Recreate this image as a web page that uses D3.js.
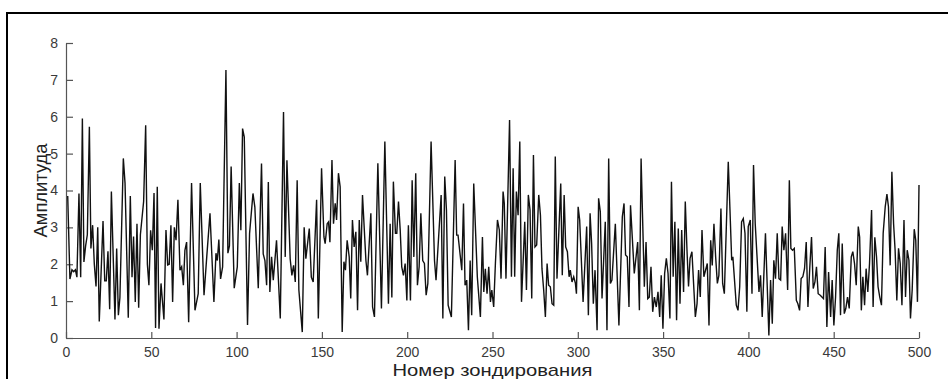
<!DOCTYPE html>
<html>
<head>
<meta charset="utf-8">
<script src="https://cdn.jsdelivr.net/npm/d3@7"></script>
<style>
  body { margin: 0; background: #fff; }
  svg { display: block; font-family: "Liberation Sans", Arial, Helvetica, sans-serif; }
</style>
</head>
<body>
<svg id="chart" width="948" height="379"></svg>
<script>
// sample number and amplitude at that sample
const sample = [
  1.0, 2.3, 3.5, 4.5, 5.5, 6.4, 7.6, 8.6, 9.6, 10.5, 11.5, 12.5, 13.7, 14.6, 15.6, 16.6, 17.6, 18.6, 19.5,
  21.7, 22.7, 23.6, 24.6, 25.6, 26.6, 28.7, 29.7, 30.7, 31.6, 33.6, 34.6, 36.5, 37.7, 38.7, 39.6, 40.6,
  41.6, 42.6, 43.6, 45.5, 46.7, 47.7, 48.6, 49.6, 50.6, 51.6, 52.5, 53.5, 54.5, 55.7, 57.4, 58.6, 59.6,
  60.5, 61.5, 62.5, 63.5, 64.5, 65.6, 66.8, 67.8, 68.8, 69.7, 70.7, 71.9, 73.6, 75.6, 77.5, 78.7, 80.9,
  82.5, 84.4, 86.7, 87.9, 88.7, 89.6, 90.6, 91.8, 93.75, 94.9, 95.8, 96.8, 98.6, 100.4, 101.6, 102.5,
  103.5, 104.5, 106.4, 107.6, 109.6, 110.7, 112.7, 114.6, 115.6, 116.6, 117.6, 118.6, 119.5, 120.5,
  121.5, 123.4, 125.6, 127.5, 128.5, 129.5, 131.4, 132.4, 133.4, 134.4, 135.5, 136.5, 138.5, 139.6,
  140.6, 142.6, 143.8, 144.9, 146.9, 147.9, 149.8, 151.2, 151.9, 153.1, 153.9, 154.7, 155.9, 156.8,
  157.8, 158.6, 159.7, 160.7, 161.9, 162.9, 163.8, 164.8, 166.0, 166.9, 167.9, 168.9, 169.9, 170.9,
  171.9, 172.8, 173.8, 175.8, 176.7, 178.7, 179.7, 180.8, 182.8, 184.9, 186.9, 189.0, 190.0, 191.0,
  191.9, 193.1, 193.9, 194.9, 195.9, 196.8, 197.8, 198.8, 199.8, 200.7, 201.9, 202.9, 203.9, 205.0,
  206.0, 207.0, 208.0, 209.1, 210.1, 211.1, 212.1, 214.0, 216.0, 216.9, 219.9, 220.9, 222.0, 223.0,
  224.0, 225.9, 228.1, 229.0, 229.8, 232.0, 233.0, 233.9, 234.9, 235.9, 236.9, 237.8, 239.0, 241.1,
  242.9, 244.1, 244.9, 245.8, 246.8, 247.8, 248.8, 249.6, 250.7, 251.7, 252.9, 254.0, 255.0, 256.2,
  256.9, 257.9, 260.0, 261.1, 262.1, 263.0, 264.0, 265.0, 266.0, 267.0, 268.9, 269.9, 271.0, 272.0,
  273.0, 274.0, 274.9, 275.9, 277.1, 278.1, 279.0, 280.0, 281.0, 282.0, 282.9, 283.9, 284.9, 285.9,
  286.8, 287.8, 290.0, 290.9, 292.0, 292.9, 293.9, 294.9, 295.6, 296.6, 297.6, 298.6, 299.2, 300.2,
  301.1, 303.1, 305.2, 306.2, 307.2, 308.1, 309.1, 310.1, 311.3, 312.2, 313.2, 314.2, 316.1, 317.1,
  318.1, 319.1, 320.0, 322.0, 324.1, 326.1, 327.1, 328.0, 329.0, 330.0, 330.9, 333.1, 335.1, 336.1,
  337.1, 339.0, 340.0, 341.0, 341.9, 342.9, 343.9, 344.9, 346.0, 347.0, 348.0, 348.9, 349.9, 350.9,
  351.9, 352.9, 354.0, 354.9, 355.9, 356.9, 357.9, 358.9, 359.9, 360.9, 362.0, 363.0, 364.0, 364.9,
  365.8, 366.9, 368.9, 369.9, 370.8, 371.8, 372.8, 373.9, 375.9, 376.9, 377.9, 378.8, 379.8, 380.8,
  381.8, 382.7, 383.9, 384.9, 385.9, 388.2, 389.2, 390.2, 390.9, 392.9, 393.9, 394.9, 396.0, 397.0,
  398.0, 399.1, 399.9, 401.1, 402.1, 403.0, 404.0, 406.2, 407.1, 408.1, 410.0, 412.0, 413.0, 414.0,
  414.9, 415.9, 416.9, 417.9, 418.9, 419.8, 420.8, 421.8, 423.0, 424.0, 424.9, 425.9, 426.9, 428.1,
  429.0, 430.0, 430.9, 431.9, 432.9, 433.9, 434.9, 436.0, 437.0, 438.0, 439.0, 439.9, 440.9, 442.1,
  443.1, 444.0, 445.0, 446.0, 447.0, 448.2, 449.1, 450.1, 451.1, 452.1, 453.0, 454.0, 455.0, 456.2,
  457.1, 458.1, 459.1, 460.3, 461.2, 462.2, 463.2, 464.4, 465.2, 466.2, 467.1, 468.1, 469.0, 470.0,
  471.0, 472.2, 473.1, 474.1, 475.1, 476.0, 477.0, 478.0, 479.0, 480.2, 481.2, 482.1, 483.1, 484.1,
  485.1, 486.0, 487.0, 488.0, 489.0, 490.0, 491.2, 492.1, 493.1, 494.1, 495.0, 496.0, 497.2, 498.1,
  499.1, 500.0
];

const amplitude = [
  3.85, 1.6, 1.85, 1.8, 1.85, 1.65, 3.92, 1.65, 5.95, 2.06, 2.5, 2.8, 5.73, 2.43, 3.06, 2.0, 1.4, 3.0, 0.45,
  3.17, 1.55, 1.55, 2.35, 0.78, 3.97, 0.5, 2.43, 0.62, 1.1, 4.87, 4.2, 0.55, 3.85, 1.65, 2.75, 0.98,
  3.1, 0.82, 2.8, 3.7, 5.77, 2.0, 1.43, 2.92, 2.38, 3.93, 0.27, 4.1, 0.25, 1.48, 0.5, 2.93, 1.98,
  2.0, 3.06, 0.98, 3.0, 2.65, 3.75, 1.84, 1.93, 1.43, 2.38, 2.6, 0.43, 4.2, 0.75, 1.2, 4.2, 1.16,
  2.2, 3.38, 0.98, 2.3, 2.1, 2.67, 1.6, 1.93, 7.27, 2.3, 2.5, 4.65, 1.35, 1.93, 4.2, 2.92,
  5.68, 5.45, 0.35, 2.83, 3.92, 3.55, 1.35, 4.73, 2.28, 2.1, 1.43, 4.23, 1.25, 2.2,
  1.57, 2.65, 0.53, 6.13, 2.2, 4.82, 2.15, 1.7, 1.97, 1.52, 4.28, 1.3, 0.16, 3.0,
  2.15, 2.97, 1.65, 1.52, 3.75, 0.53, 4.6, 2.74, 2.56, 3.1, 3.15, 2.6, 4.83, 3.1,
  3.65, 3.2, 4.47, 4.1, 0.16, 2.07, 1.84, 2.65, 2.2, 1.07, 3.2, 2.47, 2.88, 0.75,
  3.2, 2.07, 3.88, 2.1, 1.7, 3.38, 0.84, 0.57, 4.74, 0.8, 5.33, 0.93, 3.1, 1.1,
  4.24, 2.84, 2.84, 3.7, 2.93, 1.93, 1.7, 2.02, 1.02, 3.06, 1.02, 4.28, 2.2, 4.47,
  1.43, 1.93, 3.38, 2.1, 2.02, 1.16, 1.48, 5.33, 2.1, 1.57, 3.88, 0.53, 4.38, 3.47,
  0.89, 0.57, 4.83, 2.79, 2.79, 1.84, 3.65, 1.43, 1.57, 0.21, 2.1, 0.62, 4.19, 1.66,
  0.57, 2.74, 1.25, 1.88, 1.2, 1.93, 0.98, 1.3, 0.84, 2.02, 3.2, 2.93, 1.61, 3.97,
  3.65, 1.61, 5.91, 1.66, 4.6, 1.66, 3.97, 3.33, 5.33, 0.98, 3.15, 1.3, 3.88, 3.47,
  1.07, 4.96, 2.47, 2.52, 3.88, 3.33, 1.88, 1.3, 0.57, 2.02, 1.43, 1.39, 0.93, 0.89,
  4.92, 1.61, 4.19, 1.7, 3.88, 2.47, 2.34, 1.66, 1.84, 1.52, 1.66, 1.48, 1.2, 3.56,
  3.2, 0.98, 3.02, 0.62, 3.38, 2.56, 0.93, 1.84, 0.21, 3.79, 3.42, 1.07, 3.15, 0.21,
  4.87, 1.48, 1.57, 3.1, 0.34, 3.29, 3.65, 2.25, 2.2, 0.84, 3.6, 1.75, 2.6, 0.75,
  4.87, 1.39, 2.6, 1.07, 1.11, 1.93, 0.71, 1.11, 0.84, 1.25, 0.57, 1.7, 0.25, 1.75,
  2.16, 1.75, 0.53, 4.24, 1.66, 3.15, 0.48, 2.97, 0.93, 2.93, 1.25, 3.7, 2.38, 1.4,
  2.16, 2.34, 0.57, 0.93, 1.84, 1.11, 2.93, 1.66, 2.02, 0.34, 2.65, 1.97, 3.1, 2.2,
  1.48, 1.7, 3.51, 1.48, 1.2, 4.78, 3.47, 2.11, 2.2, 0.89, 0.75, 1.39, 3.15, 3.24,
  2.84, 0.71, 3.02, 3.2, 1.2, 4.69, 3.1, 1.25, 1.7, 0.57, 2.84, 0.07, 1.57, 0.39,
  2.11, 1.61, 2.84, 1.61, 1.57, 3.02, 2.38, 2.84, 1.3, 4.28, 2.43, 2.38, 2.43, 1.02,
  0.93, 0.75, 1.61, 1.66, 1.88, 2.6, 0.84, 1.93, 2.74, 1.34, 1.52, 1.93, 1.2, 1.16,
  1.11, 1.07, 2.47, 0.3, 1.79, 0.57, 1.57, 0.34, 1.11, 2.38, 2.84, 0.62, 2.56, 0.66,
  0.8, 1.11, 0.8, 2.2, 2.34, 2.02, 1.43, 3.02, 2.74, 0.75, 1.66, 0.89, 1.88, 1.25,
  2.02, 3.47, 0.84, 2.73, 2.2, 1.39, 1.11, 0.89, 2.84, 3.56, 3.9, 3.56, 1.97, 4.51,
  3.1, 2.38, 1.02, 2.43, 2.02, 0.89, 3.2, 1.11, 2.38, 2.11, 0.53, 1.3, 2.95, 2.65,
  0.98, 4.15
];

const xTicks = [0, 50, 100, 150, 200, 250, 300, 350, 400, 450, 500];
const yTicks = [0, 1, 2, 3, 4, 5, 6, 7, 8];
const xLabel = 'Номер зондирования';
const yLabel = 'Амплитуда';

const svg = d3.select('#chart');
const plot = { left: 66, right: 919, top: 43, bottom: 338 };

// outer frame, runs off the right and bottom edges like the scan
svg.append('rect')
  .attr('x', 7)
  .attr('y', 13)
  .attr('width', 980)
  .attr('height', 420)
  .attr('fill', 'none')
  .attr('stroke', '#000')
  .attr('stroke-width', 2);

const x = d3.scaleLinear().domain([0, 500]).range([plot.left, plot.right]);
const y = d3.scaleLinear().domain([0, 8]).range([plot.bottom, plot.top]);

const xAxis = d3.axisBottom(x)
  .tickValues(xTicks)
  .tickSizeInner(-6)
  .tickSizeOuter(0)
  .tickPadding(9);

const yAxis = d3.axisLeft(y)
  .tickValues(yTicks)
  .tickSizeInner(-7)
  .tickSizeOuter(0)
  .tickPadding(8);

const gx = svg.append('g')
  .attr('transform', `translate(0, ${plot.bottom})`)
  .call(xAxis);

const gy = svg.append('g')
  .attr('transform', `translate(${plot.left}, 0)`)
  .call(yAxis);

[gx, gy].forEach(g => {
  g.select('.domain').attr('stroke', '#555').attr('stroke-width', 1.2);
  g.selectAll('.tick line').attr('stroke', '#555').attr('stroke-width', 1.2);
  g.selectAll('.tick text')
    .attr('fill', '#3a3a3a')
    .style('font-size', '14px')
    .style('font-family', '"Liberation Sans", Arial, sans-serif');
});

// signal trace
const line = d3.line()
  .x((d, i) => x(sample[i]))
  .y(d => y(d));

svg.append('path')
  .datum(amplitude)
  .attr('d', line)
  .attr('fill', 'none')
  .attr('stroke', '#111')
  .attr('stroke-width', 1.4)
  .attr('stroke-linejoin', 'miter');

svg.append('text')
  .attr('x', (plot.left + plot.right) / 2)
  .attr('y', 376)
  .attr('text-anchor', 'middle')
  .attr('fill', '#222')
  .attr('textLength', 200)
  .attr('lengthAdjust', 'spacingAndGlyphs')
  .style('font-size', '17px')
  .text(xLabel);

svg.append('text')
  .attr('transform', `translate(47, ${(plot.top + plot.bottom) / 2}) rotate(-90)`)
  .attr('text-anchor', 'middle')
  .attr('fill', '#222')
  .attr('textLength', 94)
  .attr('lengthAdjust', 'spacingAndGlyphs')
  .style('font-size', '19px')
  .text(yLabel);
</script>
</body>
</html>
